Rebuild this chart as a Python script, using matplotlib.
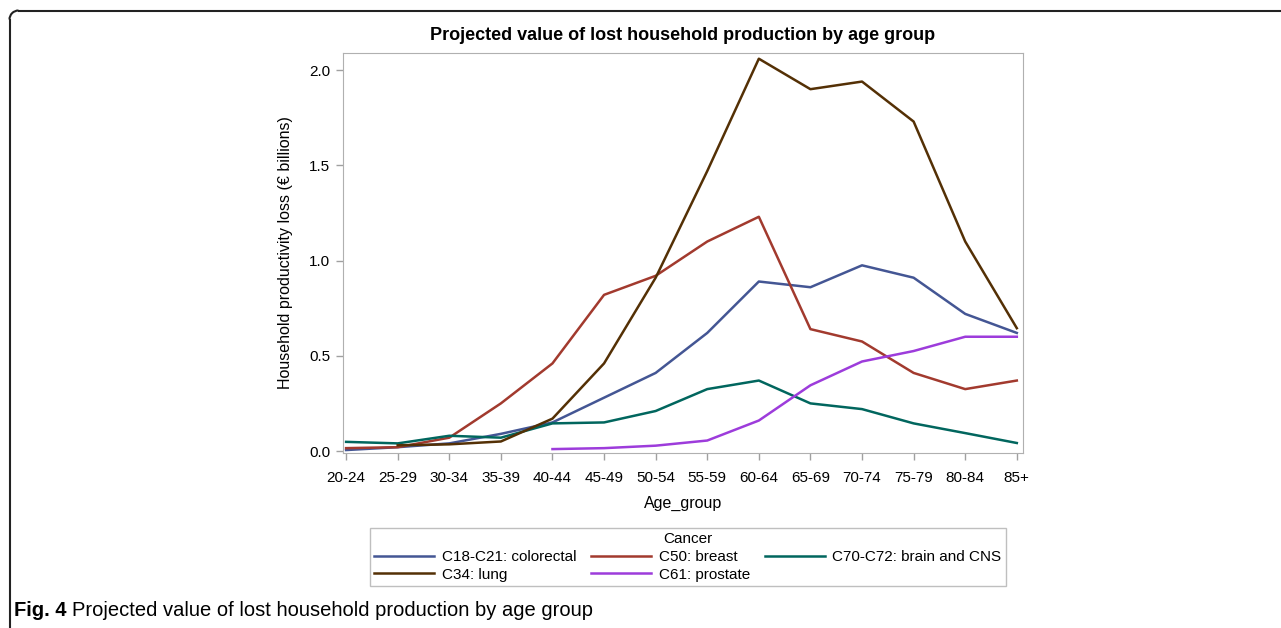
import matplotlib
matplotlib.use('Agg')
import matplotlib.pyplot as plt
import numpy as np
from matplotlib.lines import Line2D
from matplotlib.patches import Arc

plt.rcParams['font.family'] = ['Liberation Sans', 'DejaVu Sans']

age_groups = ['20-24', '25-29', '30-34', '35-39', '40-44', '45-49', '50-54',
              '55-59', '60-64', '65-69', '70-74', '75-79', '80-84', '85+']

colorectal = [0.005, 0.02, 0.04, 0.09, 0.15, 0.28, 0.41, 0.62, 0.89, 0.86, 0.975, 0.91, 0.72, 0.62]
breast = [0.015, 0.02, 0.07, 0.25, 0.46, 0.82, 0.92, 1.10, 1.23, 0.64, 0.575, 0.41, 0.325, 0.37]
brain_cns = [0.048, 0.04, 0.08, 0.07, 0.145, 0.15, 0.21, 0.325, 0.37, 0.25, 0.22, 0.145, 0.094, 0.042]
lung = [np.nan, 0.03, 0.035, 0.05, 0.17, 0.46, 0.91, 1.47, 2.06, 1.90, 1.94, 1.73, 1.10, 0.645]
prostate = [np.nan, np.nan, np.nan, np.nan, 0.01, 0.015, 0.028, 0.055, 0.16, 0.345, 0.47, 0.525, 0.60, 0.60]

series = [
    ('C18-C21: colorectal', colorectal, '#445694'),
    ('C50: breast', breast, '#A23A2E'),
    ('C70-C72: brain and CNS', brain_cns, '#01665E'),
    ('C34: lung', lung, '#543005'),
    ('C61: prostate', prostate, '#9D3CDB'),
]

W, H = 1281, 628
fig = plt.figure(figsize=(W / 100, H / 100), dpi=100)
ax = fig.add_axes([343 / W, 1 - 453 / H, (1023 - 343) / W, (453 - 53) / H])

x = np.arange(len(age_groups))
lines = {}
for name, vals, col in series:
    l, = ax.plot(x, vals, color=col, lw=1.8, label=name)
    lines[name] = l

ax.set_xlim(-0.06, 13.12)
ax.set_ylim(-0.0105, 2.09)
ax.set_xticks(x)
ax.set_xticklabels(age_groups)
ax.set_yticks([0, 0.5, 1.0, 1.5, 2.0])
ax.set_yticklabels(['0.0', '0.5', '1.0', '1.5', '2.0'])
ax.tick_params(labelsize=11, color='#a0a0a0', length=5, width=1, pad=4)
ax.tick_params(axis='x', pad=8)
for s in ax.spines.values():
    s.set_color('#b0b0b0')

ax.set_xlabel('Age_group', fontsize=11.5, labelpad=8)
ax.set_ylabel('Household productivity loss (\u20ac billions)', fontsize=11.5, labelpad=12)
fig.text(683 / W, 1 - 35 / H, 'Projected value of lost household production by age group',
         ha='center', va='center', fontsize=13, fontweight='bold')

# legend, column order gives the row layout of the reference
order = ['C18-C21: colorectal', 'C34: lung', 'C50: breast', 'C61: prostate', 'C70-C72: brain and CNS']
leg = fig.legend([lines[n] for n in order], order, title='Cancer', ncol=3,
                 loc='center', bbox_to_anchor=(688 / W, 1 - 557 / H),
                 fontsize=11, title_fontsize=11, frameon=True, fancybox=False,
                 handlelength=3.9, handletextpad=0.5, columnspacing=1.0,
                 labelspacing=0.25, borderpad=0.3)
leg.get_frame().set_edgecolor('#b0b0b0')
leg.get_frame().set_linewidth(1)

# frame around the figure (top and left edge, rounded corner)
r = 9
lx, ty = 9.5, 10.5
fig.add_artist(Line2D([lx / W, lx / W], [0, 1 - (ty + r) / H], transform=fig.transFigure,
                      color='#222222', lw=1.5))
fig.add_artist(Line2D([(lx + r) / W, 1], [1 - ty / H, 1 - ty / H], transform=fig.transFigure,
                      color='#222222', lw=1.5))
arc = Arc(((lx + r) / W, 1 - (ty + r) / H), 2 * r / W, 2 * r / H, theta1=90, theta2=180,
          transform=fig.transFigure, color='#222222', lw=1.5)
fig.add_artist(arc)

# caption
t1 = fig.text(14 / W, 1 - 610 / H, 'Fig. 4', fontsize=14.5, fontweight='bold', va='center', ha='left')
fig.canvas.draw()
bb = t1.get_window_extent()
fig.text((bb.x1 + 5) / W, 1 - 610 / H, 'Projected value of lost household production by age group',
         fontsize=14.5, va='center', ha='left')

fig.savefig('out.png', dpi=100)
